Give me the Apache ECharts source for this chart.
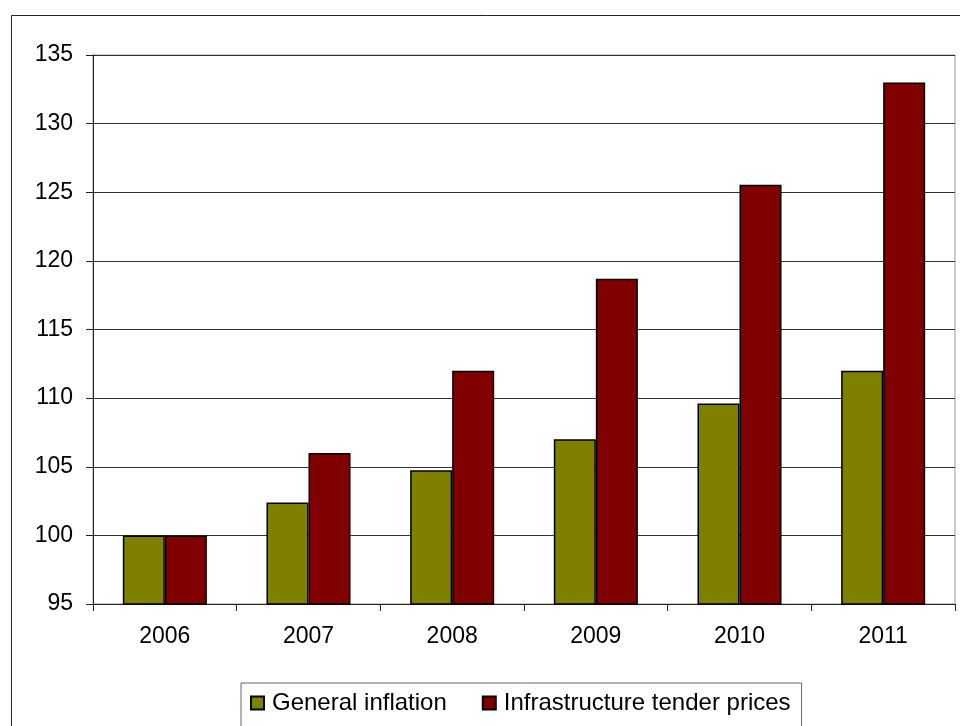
<!DOCTYPE html>
<html>
<head>
<meta charset="utf-8">
<script src="https://cdn.jsdelivr.net/npm/echarts@6/dist/echarts.min.js"></script>
<style>
  html, body { margin: 0; padding: 0; background: #fff; }
  #chart { width: 960px; height: 726px; }
</style>
</head>
<body>
<div id="chart"></div>
<script>
var years = ["2006", "2007", "2008", "2009", "2010", "2011"];
var generalInflation = [100, 102.4, 104.75, 107.0, 109.6, 112.0];
var tenderPrices = [100, 106.0, 112.0, 118.7, 125.55, 133.0];
var seriesNames = ["General inflation", "Infrastructure tender prices"];

var myChart = echarts.init(document.getElementById("chart"));
var font = "Liberation Sans, Arial, sans-serif";

var option = {
  animation: false,
  backgroundColor: "#fff",
  graphic: [
    {
      type: "rect",
      shape: { x: 11.5, y: 15.5, width: 980, height: 740 },
      style: { fill: null, stroke: "#222", lineWidth: 1 },
      z: 0
    }
  ],
  grid: {
    left: 93,
    right: 5,
    top: 55,
    bottom: 122,
    show: true,
    borderColor: "#999",
    borderWidth: 1
  },
  legend: {
    data: seriesNames,
    left: 241,
    top: 683,
    icon: "rect",
    itemWidth: 13,
    itemHeight: 13,
    itemGap: 35,
    padding: [8, 11, 40, 9],
    borderColor: "#666",
    borderWidth: 1,
    textStyle: { fontFamily: font, fontSize: 24, color: "#000", padding: [0, 0, 0, 3] }
  },
  xAxis: {
    type: "category",
    data: years,
    axisLine: { lineStyle: { color: "#222", width: 1 } },
    axisTick: { show: true, length: 7, lineStyle: { color: "#222" } },
    axisLabel: { fontFamily: font, fontSize: 23, color: "#000", margin: 21 },
    splitLine: { show: false }
  },
  yAxis: {
    type: "value",
    min: 95,
    max: 135,
    interval: 5,
    axisLine: { show: true, lineStyle: { color: "#222", width: 1 } },
    axisTick: { show: true, length: 7, lineStyle: { color: "#222" } },
    axisLabel: { fontFamily: font, fontSize: 23, color: "#000", margin: 20 },
    splitLine: { show: true, lineStyle: { color: "#333", width: 1 } }
  },
  series: [
    {
      name: seriesNames[0],
      type: "bar",
      data: generalInflation,
      barGap: "0%",
      barCategoryGap: "41.5%",
      itemStyle: { color: "#808000", borderColor: "#000", borderWidth: 1.5 }
    },
    {
      name: seriesNames[1],
      type: "bar",
      data: tenderPrices,
      barGap: "0%",
      barCategoryGap: "41.5%",
      itemStyle: { color: "#800000", borderColor: "#000", borderWidth: 1.5 }
    }
  ]
};

myChart.setOption(option);
window.addEventListener("resize", function () { myChart.resize(); });
</script>
</body>
</html>
